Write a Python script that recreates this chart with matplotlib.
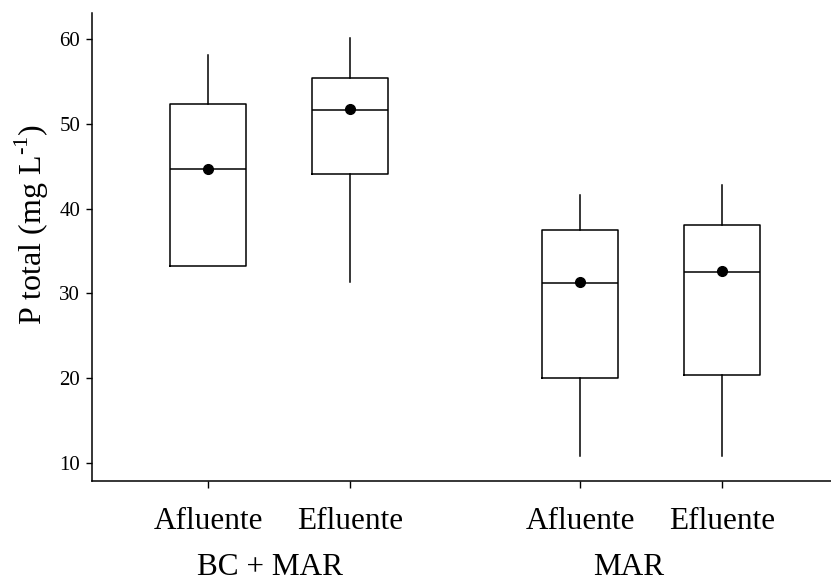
import matplotlib
matplotlib.use("Agg")
import matplotlib.pyplot as plt
import matplotlib.transforms as mtransforms

plt.rcParams['font.family'] = ['Liberation Serif', 'DejaVu Serif']
plt.rcParams['mathtext.fontset'] = 'custom'
plt.rcParams['mathtext.rm'] = 'Liberation Serif'

# box statistics (mg/L)
tick_labels = ["Afluente", "Efluente", "Afluente", "Efluente"]
group_labels = ["BC + MAR", "MAR"]
positions = [1.0, 2.0, 3.62, 4.62]
whislo = [33.2, 31.4, 10.8, 10.8]
q1 = [33.2, 44.1, 20.0, 20.4]
med = [44.7, 51.6, 31.2, 32.5]
q3 = [52.3, 55.4, 37.5, 38.1]
whishi = [58.1, 60.1, 41.6, 42.8]
means = [44.7, 51.7, 31.3, 32.6]

stats = []
for i in range(len(positions)):
    stats.append(dict(whislo=whislo[i], q1=q1[i], med=med[i], q3=q3[i],
                      whishi=whishi[i], mean=means[i], fliers=[]))

fig = plt.figure(figsize=(8.31, 5.84), dpi=100)
ax = fig.add_axes([0.1107, 0.1764, 0.8893, 0.8013])

lw = 1.1
ax.bxp(stats, positions=positions, widths=0.54, showcaps=False,
       showmeans=True, showfliers=False,
       boxprops=dict(color='black', linewidth=lw),
       whiskerprops=dict(color='black', linewidth=lw),
       medianprops=dict(color='black', linewidth=lw),
       meanprops=dict(marker='o', markerfacecolor='black',
                      markeredgecolor='black', markersize=7))

ax.set_xlim(0.183, 5.387)
ax.set_ylim(7.88, 63.07)
ax.set_yticks([10, 20, 30, 40, 50, 60])
ax.set_xticks(positions)
ax.set_xticklabels(tick_labels)

ax.spines['top'].set_visible(False)
ax.spines['right'].set_visible(False)
for s in ['left', 'bottom']:
    ax.spines[s].set_linewidth(1.1)

ax.tick_params(axis='y', direction='out', length=4.5, width=1, labelsize=15, pad=4)
ax.tick_params(axis='x', direction='out', length=5, width=1, labelsize=22.5, pad=14)

ax.set_ylabel(r"P total (mg L$^{\text{-1}}$)", fontsize=23)
ax.yaxis.set_label_coords(-0.056, 0.549)

# group labels under the tick labels (slightly left of the pair centres, as in the original)
trans = mtransforms.blended_transform_factory(ax.transData, fig.transFigure)
group_x = [1.44, 3.96]
for x, lab in zip(group_x, group_labels):
    ax.text(x, 9 / 584, lab, transform=trans, ha='center', va='baseline', fontsize=22.5)

fig.savefig("out.png", dpi=100)
